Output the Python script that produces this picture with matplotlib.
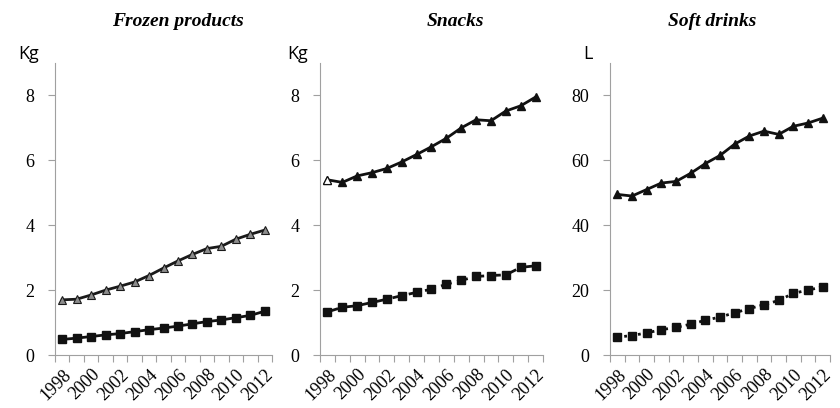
import matplotlib.pyplot as plt
import numpy as np

years = list(range(1998, 2013))

frozen_top = [1.70, 1.72, 1.85, 2.00, 2.12, 2.25, 2.45, 2.68, 2.90, 3.10, 3.28, 3.35, 3.57, 3.72, 3.85]
frozen_low = [0.48, 0.52, 0.57, 0.62, 0.66, 0.72, 0.78, 0.83, 0.89, 0.96, 1.03, 1.08, 1.15, 1.22, 1.35]

snacks_top = [5.40, 5.32, 5.52, 5.62, 5.75, 5.95, 6.18, 6.42, 6.68, 7.00, 7.25, 7.22, 7.52, 7.68, 7.95]
snacks_low = [1.33, 1.47, 1.52, 1.62, 1.72, 1.83, 1.93, 2.03, 2.18, 2.30, 2.42, 2.45, 2.47, 2.70, 2.75]

soft_top = [49.5, 49.0, 51.0, 53.0, 53.5, 56.0, 59.0, 61.5, 65.0, 67.5, 69.0, 68.0, 70.5, 71.5, 73.0]
soft_low = [5.5, 6.0, 6.8, 7.8, 8.5, 9.5, 10.7, 11.7, 13.0, 14.3, 15.5, 16.8, 19.0, 20.0, 21.0]

titles = ['Frozen products', 'Snacks', 'Soft drinks']
units = ['Kg', 'Kg', 'L']
serif = 'Liberation Serif'
grey = '#a0a0a0'

fig = plt.figure(figsize=(8.4, 4.08), dpi=100)

boxes = [(55, 272), (320, 543), (610, 830)]
title_x = [178, 455, 712]
unit_x = [18, 287, 583]
ax_bottom = 1 - 355 / 408
ax_height = (355 - 63) / 408

panels = [
    (frozen_top, frozen_low, 9, 2, '-'),
    (snacks_top, snacks_low, 9, 2, (0, (4, 2))),
    (soft_top, soft_low, 90, 20, (0, (1, 1.5))),
]

x = np.arange(len(years))
for i, (top, low, ymax, step, low_style) in enumerate(panels):
    l, r = boxes[i]
    ax = fig.add_axes([l / 840, ax_bottom, (r - l) / 840, ax_height])

    if i == 0:
        ax.plot(x, top, color='#1a1a1a', lw=2, marker='^', ms=6,
                mfc='#8c8c8c', mec='#1a1a1a', mew=0.8)
    else:
        ax.plot(x, top, color='#111111', lw=2, marker='^', ms=6,
                mfc='#111111', mec='#111111')
        if i == 1:
            ax.plot(x[:1], top[:1], ls='none', marker='^', ms=6,
                    mfc='white', mec='#111111', mew=0.8)
    ax.plot(x, low, color='#111111', lw=2, ls=low_style, marker='s', ms=5.5,
            mfc='#111111', mec='#111111')

    ax.set_xlim(-0.5, len(years) - 0.5)
    ax.set_ylim(0, ymax)
    ax.set_yticks(np.arange(0, ymax, step))
    ax.set_yticklabels([str(int(v)) for v in np.arange(0, ymax, step)],
                       fontfamily=serif, fontsize=13)

    ax.set_xticks(np.arange(-0.5, len(years), 1.0))
    ax.set_xticklabels([])
    ax.set_xticks(x[::2], minor=True)
    ax.set_xticklabels([str(y) for y in years[::2]], minor=True,
                       rotation=45, ha='right', rotation_mode='anchor',
                       fontfamily=serif, fontsize=13)
    ax.tick_params(axis='x', which='minor', length=0, pad=8)
    ax.tick_params(axis='both', which='major', color=grey, length=5)
    ax.tick_params(axis='y', pad=10)

    for s in ['top', 'right']:
        ax.spines[s].set_visible(False)
    for s in ['left', 'bottom']:
        ax.spines[s].set_color(grey)

    fig.text(title_x[i] / 840, 1 - 22 / 408, titles[i], ha='center', va='center',
             fontfamily=serif, fontsize=14, fontweight='bold', fontstyle='italic')
    fig.text(unit_x[i] / 840, 1 - 54 / 408, units[i], ha='left', va='center',
             fontfamily='Open Sans', fontsize=13)

fig.savefig('out.png', dpi=100)
